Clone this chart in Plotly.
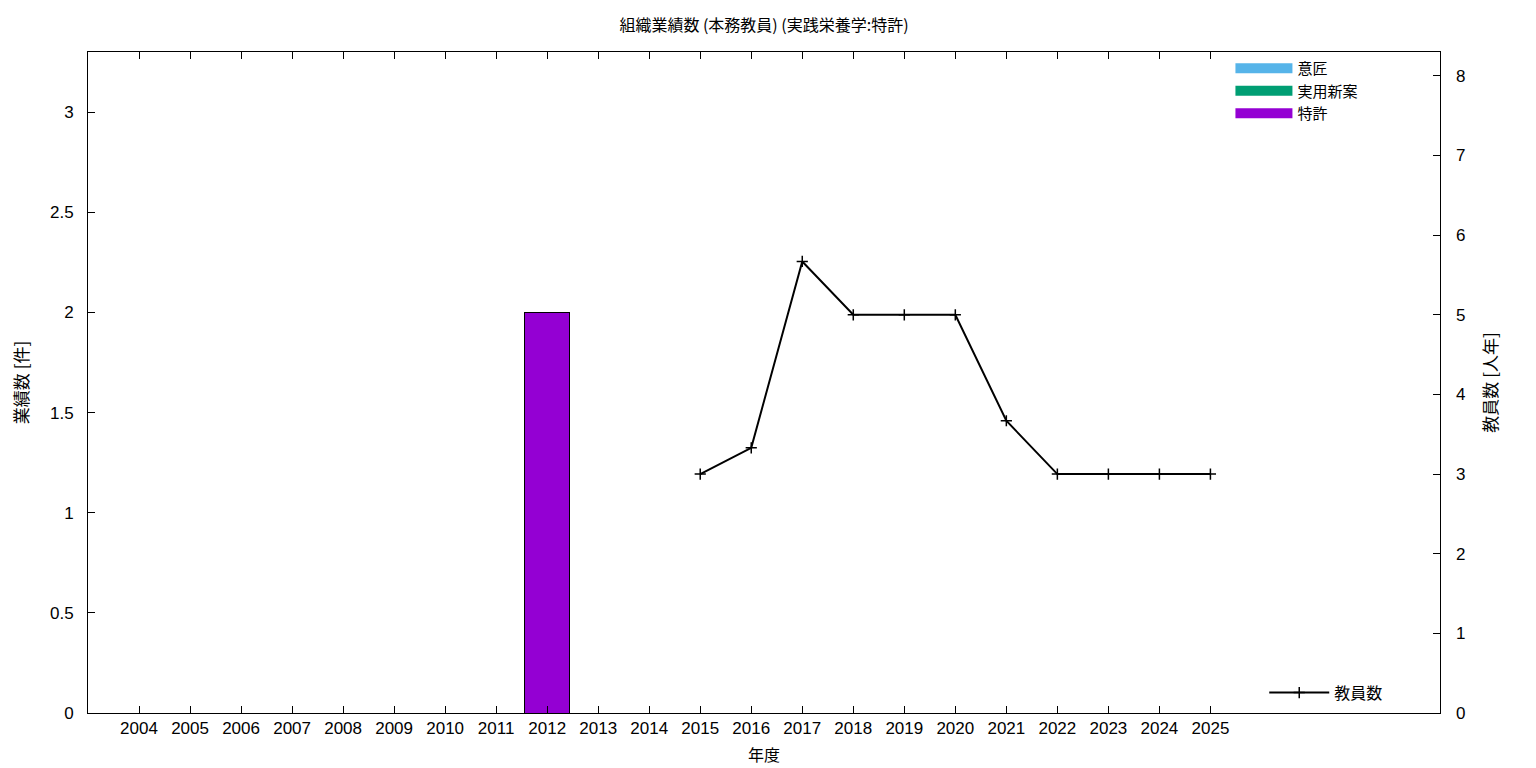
import plotly.graph_objects as go

years = list(range(2004, 2026))
design = [0] * len(years)
utility = [0] * len(years)
patent = [0, 0, 0, 0, 0, 0, 0, 0, 2, 0, 0, 0, 0, 0, 0, 0, 0, 0, 0, 0, 0, 0]
staff_years = [2015, 2016, 2017, 2018, 2019, 2020, 2021, 2022, 2023, 2024, 2025]
staff = [3, 3.33, 5.67, 5, 5, 5, 3.67, 3, 3, 3, 3]

CJK = "Noto Sans CJK JP"
NUM = "Liberation Sans"

series = [("意匠", design, "#56B4E9"),
          ("実用新案", utility, "#009E73"),
          ("特許", patent, "#9400D3")]

fig = go.Figure()
for name, vals, color in series:
    fig.add_trace(go.Bar(x=years, y=vals, name=name, width=0.88, showlegend=False,
                         marker=dict(color=color, line=dict(color="black", width=1))))
# legend proxies (wide colour swatches)
for name, vals, color in series:
    fig.add_trace(go.Scatter(x=[None], y=[None], name=name, mode="lines",
                             line=dict(color=color, width=10), legend="legend"))

fig.add_trace(go.Scatter(x=staff_years, y=staff, name="教員数", yaxis="y2",
                         mode="lines+markers",
                         line=dict(color="black", width=2),
                         marker=dict(symbol="cross-thin", size=8,
                                     line=dict(color="black", width=1.5)),
                         legend="legend2"))

W, H = 1528, 760  # page body has an 8px margin
fig.update_layout(
    width=W, height=H,
    margin=dict(l=80, r=96, t=44, b=55, autoexpand=False),
    paper_bgcolor="white", plot_bgcolor="white",
    barmode="stack",
    title=dict(text="組織業績数 (本務教員) (実践栄養学:特許)", x=0.5, xanchor="center",
               xref="paper", yref="container",
               y=1 - 17 / H, yanchor="middle", font=dict(family=CJK, size=16, color="black")),
    xaxis=dict(range=[2003, 2029.5], tickvals=years, ticktext=[str(y) for y in years],
               ticks="inside", ticklen=7, tickcolor="black", showline=True, linecolor="black",
               linewidth=1, mirror="ticks", showgrid=False, zeroline=False, automargin=False,
               tickfont=dict(family=NUM, size=17, color="black"),
               title=dict(text="年度", font=dict(family=CJK, size=16, color="black"), standoff=12)),
    yaxis=dict(range=[0, 3.3], dtick=0.5, tick0=0, ticks="inside", ticklen=7, tickcolor="black",
               showline=True, linecolor="black", linewidth=1, mirror=True, showgrid=False,
               zeroline=False, automargin=False, ticklabelstandoff=10,
               tickfont=dict(family=NUM, size=17, color="black"),
               title=dict(text="業績数 [件]", font=dict(family=CJK, size=17, color="black"), standoff=42)),
    yaxis2=dict(range=[0, 8.3], dtick=1, tick0=0, overlaying="y", side="right",
                ticks="inside", ticklen=7, tickcolor="black", showline=False, showgrid=False,
                zeroline=False, automargin=False, ticklabelstandoff=15,
                tickfont=dict(family=NUM, size=17, color="black"),
                title=dict(text="教員数 [人年]", font=dict(family=CJK, size=17, color="black"), standoff=20)),
    legend=dict(x=0.845, y=1.0, xanchor="left", yanchor="top", bgcolor="rgba(0,0,0,0)",
                font=dict(family=CJK, size=15, color="black"), traceorder="normal",
                tracegroupgap=0, itemwidth=57),
    legend2=dict(x=0.87, y=0.005, xanchor="left", yanchor="bottom", bgcolor="rgba(0,0,0,0)",
                 font=dict(family=CJK, size=16, color="black"), itemwidth=60),
    showlegend=True,
)

fig.write_html("out.html")
